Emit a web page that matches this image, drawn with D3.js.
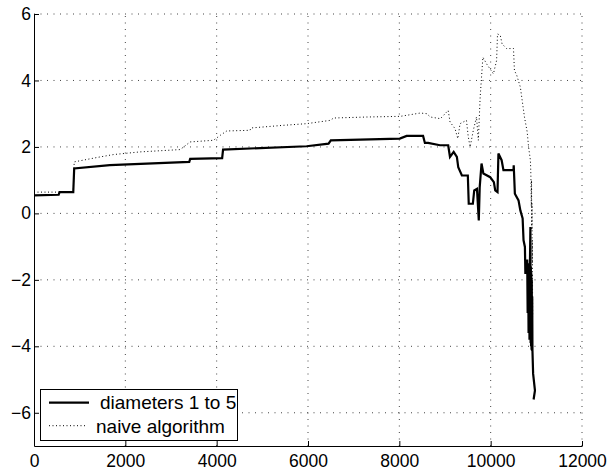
<!DOCTYPE html>
<html>
<head>
<meta charset="utf-8">
<script src="https://cdn.jsdelivr.net/npm/d3@7"></script>
<style>
  body { margin: 0; background: #fff; }
  svg { display: block; font-family: "Liberation Sans", Arial, sans-serif; }
  .axis path, .axis line { stroke: #000; stroke-width: 1; }
  .axis text { font-size: 17.5px; fill: #000; }
  .grid line { stroke: #444; stroke-width: 1; stroke-dasharray: 1,5.5; }
</style>
</head>
<body>
<div class="container"></div>
<script>
var width = 611,
    height = 470;

// tick values
var xTicks = [0, 2000, 4000, 6000, 8000, 10000, 12000];
var yTicks = [-6, -4, -2, 0, 2, 4, 6];

// series: diameters 1 to 5 (solid)
var diamX = [0, 540, 560, 860, 880, 1660, 3400, 3420, 4120, 4140, 5970, 6450, 6500, 8010, 8160, 8520,
  8560, 8630, 8890, 9070, 9109, 9190, 9260, 9290, 9370, 9500, 9520, 9610, 9640, 9700, 9740, 9760,
  9800, 9840, 9990, 10070, 10100, 10150, 10170, 10240, 10280, 10500, 10505, 10530, 10610, 10650,
  10700, 10720, 10750, 10760, 10790, 10800, 10810, 10820, 10830, 10840, 10850, 10860, 10870, 10875,
  10880, 10885, 10890, 10895, 10900, 10905, 10910, 10915, 10930, 10970, 10940];
var diamY = [0.54, 0.56, 0.64, 0.64, 1.35, 1.45, 1.55, 1.64, 1.66, 1.92, 2.02, 2.1, 2.2, 2.25, 2.33, 2.33,
  2.12, 2.12, 2.05, 2.05, 1.70, 1.85, 1.70, 1.39, 1.14, 1.14, 0.29, 0.29, 0.69, 0.74, -0.21, 0.79,
  1.5, 1.2, 1.09, 0.94, 0.69, 0.64, 1.8, 1.6, 1.3, 1.3, 1.45, 0.59, 0.39, 0.09,
  -0.15, -0.81, -1.01, -1.82, -1.42, -1.42, -3.0, -1.5, -3.6, -1.5, -3.8, -1.5, -0.41, -3.9,
  -1.6, -4.0, -1.8, -4.1, -2.0, -4.13, -2.5, -4.13, -4.83, -5.33, -5.6];

// series: naive algorithm (dotted)
var naiveX = [0, 860, 880, 1450, 1740, 2320, 3200, 3420, 3930, 4080, 4220, 4730, 4750, 5460, 5970, 6490,
  6560, 7290, 8020, 8460, 8600, 8680, 8900, 9070, 9110, 9220, 9280, 9330, 9470, 9510, 9550, 9620,
  9690, 9730, 9770, 9800, 9830, 9910, 10060, 10130, 10150, 10210, 10250, 10350, 10500, 10520, 10570,
  10650, 10690, 10740, 10800, 10830, 10870, 10880, 10890, 10895, 10900, 10905, 10910, 10913, 10917, 10920];
var naiveY = [0.64, 0.64, 1.55, 1.7, 1.77, 1.85, 1.92, 2.15, 2.2, 2.35, 2.48, 2.5, 2.57, 2.65, 2.7, 2.8,
  2.87, 2.9, 2.92, 3.02, 3.0, 2.9, 2.85, 3.1, 2.75, 2.55, 2.25, 2.7, 2.8, 2.3, 2.0, 2.5,
  2.9, 2.2, 3.5, 4.1, 4.7, 4.5, 4.2, 4.6, 5.4, 5.36, 5.1, 4.96, 4.96, 4.3, 4.16,
  3.8, 3.4, 2.9, 2.45, 2.0, 1.6, 1.2, 0.2, 1.0, -0.5, 0.3, -1.5, -0.8, -2.2, -3.12];

var seriesNames = ["diameters 1 to 5", "naive algorithm"];

var x = d3.scaleLinear().domain([0, 12000]).range([34, 582]);
var y = d3.scaleLinear().domain([-7, 6]).range([446, 14]);

var svg = d3.select(".container").append("svg")
    .attr("width", width)
    .attr("height", height);

// ---------- GRID ----------
var grid = svg.append("g").attr("class", "grid");
grid.selectAll(".gx")
  .data(xTicks.filter(function(d) { return d > 0; }))
  .enter().append("line")
    .attr("x1", function(d) { return x(d); })
    .attr("x2", function(d) { return x(d); })
    .attr("y1", y(-7))
    .attr("y2", y(6));
grid.selectAll(".gy")
  .data(yTicks)
  .enter().append("line")
    .attr("x1", x(0))
    .attr("x2", x(12000))
    .attr("y1", function(d) { return y(d); })
    .attr("y2", function(d) { return y(d); });

// ---------- LINES ----------
var line = d3.line()
    .x(function(d) { return x(d[0]); })
    .y(function(d) { return y(d[1]); });

var naive = naiveX.map(function(v, i) { return [v, naiveY[i]]; });
var diam = diamX.map(function(v, i) { return [v, diamY[i]]; });

svg.append("path")
  .datum(naive)
  .attr("d", line)
  .attr("fill", "none")
  .attr("stroke", "#000")
  .attr("stroke-width", 1)
  .attr("stroke-dasharray", "1,2.5");

svg.append("path")
  .datum(diam)
  .attr("d", line)
  .attr("fill", "none")
  .attr("stroke", "#000")
  .attr("stroke-width", 2.2);

// ---------- AXES ----------
svg.append("g")
  .attr("class", "axis")
  .attr("transform", "translate(0," + y(-7) + ")")
  .call(d3.axisBottom(x).tickValues(xTicks).tickFormat(d3.format("d"))
    .tickSizeInner(-5).tickSizeOuter(0).tickPadding(8.5));

svg.append("g")
  .attr("class", "axis")
  .attr("transform", "translate(" + x(0) + ",0)")
  .call(d3.axisLeft(y).tickValues(yTicks).tickFormat(d3.format("d"))
    .tickSizeInner(-5).tickSizeOuter(0).tickPadding(3));

// ---------- LEGEND ----------
var legend = svg.append("g").attr("class", "legend");
legend.append("rect")
  .attr("x", 40.5).attr("y", 389.5)
  .attr("width", 197).attr("height", 51)
  .attr("fill", "#fff").attr("stroke", "#000").attr("stroke-width", 1);

legend.append("line")
  .attr("x1", 49).attr("x2", 89).attr("y1", 402.7).attr("y2", 402.7)
  .attr("stroke", "#000").attr("stroke-width", 2.2);
legend.append("line")
  .attr("x1", 49).attr("x2", 87).attr("y1", 425.7).attr("y2", 425.7)
  .attr("stroke", "#000").attr("stroke-width", 1).attr("stroke-dasharray", "1,2.5");

legend.selectAll("text")
  .data(seriesNames)
  .enter().append("text")
    .attr("x", function(d, i) { return i === 0 ? 100 : 96; })
    .attr("y", function(d, i) { return i === 0 ? 409 : 432.5; })
    .attr("font-size", "19px")
    .text(function(d) { return d; });
</script>
</body>
</html>
